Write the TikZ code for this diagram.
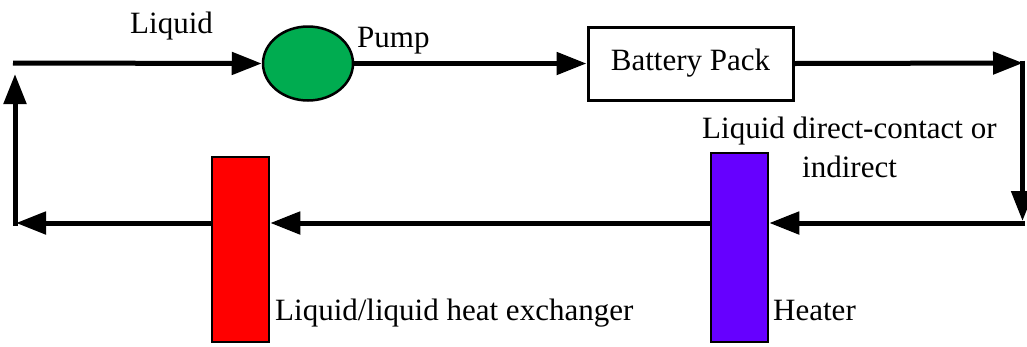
\documentclass[tikz,border=0pt]{standalone}
\usepackage{fontspec}
\setmainfont{Liberation Serif}
\newfontfamily\tnr{Liberation Serif}
\usetikzlibrary{arrows.meta,shapes.geometric}
\definecolor{pumpgreen}{RGB}{0,172,80}
\definecolor{heatpurple}{RGB}{102,0,255}
\definecolor{hxred}{RGB}{255,0,0}
\begin{document}
\begin{tikzpicture}[x=1pt,y=-1pt,
  flow/.style={line width=5pt,-{Triangle[length=30pt,width=22pt]}},
  lbl/.style={font=\tnr\fontsize{31}{36}\selectfont,inner sep=0pt,anchor=base west},
  boxnode/.style={draw,line width=3pt,fill=white,font=\tnr\fontsize{31}{36}\selectfont,inner sep=0pt},
  barnode/.style={draw,line width=2.5pt,inner sep=0pt},
  pumpnode/.style={ellipse,draw,line width=2.5pt,fill=pumpgreen,inner sep=0pt,minimum width=90pt,minimum height=74pt}
]
\useasboundingbox (0,0) rectangle (1027,346);
% components
\node[pumpnode] (pump) at (308,63.5) {};
\node[boxnode,minimum width=205pt,minimum height=73pt] (bat) at (690.5,63.5) {Battery Pack};
\node[barnode,fill=heatpurple,minimum width=57pt,minimum height=189pt] (heater) at (739.5,247.5) {};
\node[barnode,fill=hxred,minimum width=57pt,minimum height=185pt] (hx) at (240.5,249.5) {};
% corners
\coordinate (TL) at (13,63);
\coordinate (TR) at (1023,63);
\coordinate (TRs) at (1022.5,60.5);
\coordinate (BRt) at (1022.5,221);
\coordinate (BR) at (1025,223);
\coordinate (BL) at (16,223);
\coordinate (BLs) at (15,225.5);
\coordinate (UP) at (15,74);
% connectors
\draw[flow] (TL) -- (pump.west);
\draw[flow] (pump.east) -- (bat.west);
\draw[flow] (bat.east) -- (TR);
\draw[flow] (TRs) -- (BRt);
\draw[flow] (BR) -- (BR -| heater.east);
\draw[flow] (heater.west |- BR) -- (BR -| hx.east);
\draw[flow] (hx.west |- BR) -- (BL);
\draw[flow] (BLs) -- (UP);
% labels
\node[lbl] (lliq) at (130,33) {Liquid};
\node[lbl] (lpump) at (357,47) {Pump};
\node[lbl] (ldc) at (702,138) {Liquid direct-contact or};
\node[lbl] (lind) at (802,177) {indirect};
\node[lbl] (lhx) at (275,320) {Liquid/liquid heat exchanger};
\node[lbl] (lheat) at (773,320) {Heater};
\end{tikzpicture}
\end{document}
